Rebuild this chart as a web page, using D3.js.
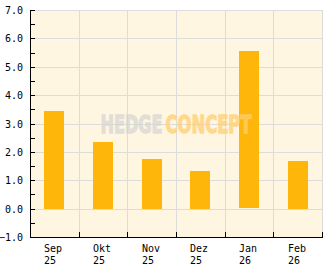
<!DOCTYPE html>
<html>
<head>
<meta charset="utf-8">
<style>
    body { margin: 0; background: #fff; }
    svg { display: block; font: 10px "DejaVu Sans Mono", monospace; }
</style>
</head>
<body>
<svg width="332" height="269"></svg>
<script src="https://d3js.org/d3.v7.min.js"></script>
<script>
    var months = ["Sep", "Okt", "Nov", "Dez", "Jan", "Feb"];
    var years = ["25", "25", "25", "25", "26", "26"];
    var values = [3.44, 2.35, 1.75, 1.33, 5.55, 1.68];
    var yTicks = [-1, 0, 1, 2, 3, 4, 5, 6, 7];

    var svg = d3.select("svg"),
        pLeft = 30, pRight = 322, pTop = 10, pBottom = 237;

    var x = d3.scaleBand()
        .domain(months)
        .range([pLeft, pRight])
        .paddingInner(0.59)
        .paddingOuter(0.295);

    var y = d3.scaleLinear().domain([-1, 7]).range([pBottom, pTop]);

    // plot background
    svg.append("rect")
        .attr("x", pLeft).attr("y", pTop)
        .attr("width", pRight - pLeft).attr("height", pBottom - pTop)
        .attr("fill", "#fef6e0");

    // horizontal grid
    svg.append("g").selectAll("line")
        .data(yTicks)
        .enter().append("line")
        .attr("x1", pLeft).attr("x2", pRight)
        .attr("y1", function(d) { return Math.round(y(d)) + 0.5; })
        .attr("y2", function(d) { return Math.round(y(d)) + 0.5; })
        .attr("stroke", "#dcdcdc");

    // vertical grid at band edges
    var edges = months.map(function(m) { return x(m) - x.step() * x.paddingOuter(); }).slice(1);
    edges.push(pRight);
    svg.append("g").selectAll("line")
        .data(edges)
        .enter().append("line")
        .attr("x1", function(d) { return Math.round(d) + 0.5; })
        .attr("x2", function(d) { return Math.round(d) + 0.5; })
        .attr("y1", pTop).attr("y2", pBottom)
        .attr("stroke", "#dcdcdc");

    // bars
    svg.append("g").selectAll("rect")
        .data(values)
        .enter().append("rect")
        .attr("x", function(d, i) { return Math.round(x(months[i])); })
        .attr("width", 20)
        .attr("y", function(d) { return Math.round(y(Math.max(0, d))); })
        .attr("height", function(d) { return Math.round(Math.abs(y(d) - y(0))); })
        .attr("fill", "#ffb60a");

    // watermark
    var wmStyle = function(t) {
        t.style("font-family", "'DejaVu Sans', sans-serif")
         .style("font-weight", "bold")
         .style("font-size", "25px")
         .attr("stroke-width", 1.3)
         .attr("stroke-linejoin", "round");
    };
    svg.append("text")
        .attr("x", 100.5).attr("y", 132.5)
        .call(wmStyle)
        .attr("textLength", 62).attr("lengthAdjust", "spacingAndGlyphs")
        .attr("fill", "#d4d4d4").attr("stroke", "#d4d4d4").attr("opacity", 0.7)
        .text("HEDGE");
    svg.append("text")
        .attr("x", 165.5).attr("y", 132.5)
        .call(wmStyle)
        .attr("textLength", 86).attr("lengthAdjust", "spacingAndGlyphs")
        .attr("fill", "#ffcf70").attr("stroke", "#ffcf70").attr("opacity", 0.75)
        .text("CONCEPT");

    // left axis
    svg.append("line")
        .attr("x1", pLeft + 0.5).attr("x2", pLeft + 0.5)
        .attr("y1", pTop).attr("y2", pBottom + 1)
        .attr("stroke", "#000");
    var minor = d3.range(-1, 7.01, 0.5);
    svg.append("g").selectAll("line")
        .data(minor)
        .enter().append("line")
        .attr("x1", pLeft).attr("x2", pLeft + 5)
        .attr("y1", function(d) { return Math.round(y(d)) + 0.5; })
        .attr("y2", function(d) { return Math.round(y(d)) + 0.5; })
        .attr("stroke", "#000");
    svg.append("g").selectAll("text")
        .data(yTicks)
        .enter().append("text")
        .attr("x", 23)
        .attr("y", function(d) { return y(d) + 4; })
        .attr("text-anchor", "end")
        .attr("fill", "#000")
        .text(function(d) { return d3.format(".1f")(d); });

    // bottom axis
    svg.append("line")
        .attr("x1", pLeft).attr("x2", pRight + 1)
        .attr("y1", pBottom + 0.5).attr("y2", pBottom + 0.5)
        .attr("stroke", "#000");
    svg.append("g").selectAll("line")
        .data(edges)
        .enter().append("line")
        .attr("x1", function(d) { return Math.round(d) + 0.5; })
        .attr("x2", function(d) { return Math.round(d) + 0.5; })
        .attr("y1", pBottom - 5).attr("y2", pBottom)
        .attr("stroke", "#000");
    var lab = svg.append("g").selectAll("text")
        .data(months)
        .enter().append("text")
        .attr("fill", "#000");
    lab.append("tspan")
        .attr("x", function(d) { return Math.round(x(d)); })
        .attr("y", 252)
        .text(function(d) { return d; });
    lab.append("tspan")
        .attr("x", function(d) { return Math.round(x(d)); })
        .attr("y", 264)
        .text(function(d, i) { return years[i]; });
</script>
</body>
</html>
